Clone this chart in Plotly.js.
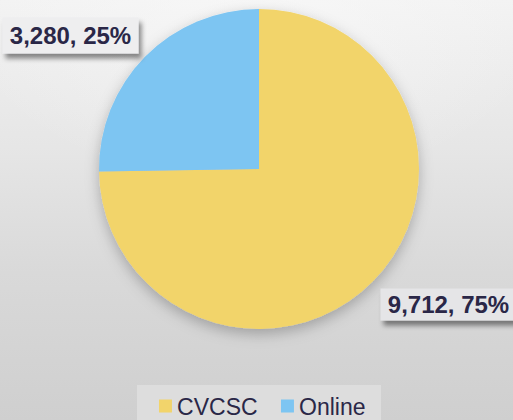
<!DOCTYPE html>
<html>
<head>
<meta charset="utf-8">
<script src="https://cdn.plot.ly/plotly-3.0.1.min.js"></script>
<style>
  html, body { margin:0; padding:0; }
  body { width:513px; height:420px; overflow:hidden;
    background:
      radial-gradient(ellipse 60% 45% at 50% 0%, rgba(250,250,250,0.6) 0%, rgba(250,250,250,0) 100%),
      linear-gradient(to bottom, #f2f2f2 0%, #e6e6e6 35%, #d9d9d9 65%, #cfcfcf 100%); }
  #chart { width:513px; height:420px; }
  #chart .pielayer { filter: url(#pieShadow); }
  #chart .annotation rect.bg { filter: url(#lblShadow); }
  #chart .legend .legendpoints path { transform: translate(28.4px, 0px) scale(1.08); }
</style>
</head>
<body>
<svg width="0" height="0" style="position:absolute">
  <defs>
    <filter id="pieShadow" x="-20%" y="-20%" width="140%" height="140%">
      <feDropShadow dx="0" dy="5" stdDeviation="7" flood-color="#000" flood-opacity="0.25"/>
    </filter>
    <filter id="lblShadow" x="-20%" y="-30%" width="140%" height="180%">
      <feDropShadow dx="3" dy="5" stdDeviation="2.5" flood-color="#000" flood-opacity="0.45"/>
    </filter>
  </defs>
</svg>
<div id="chart"></div>
<script>
const categories = ["CVCSC", "Online"];
const values = [9712, 3280];
const colors = ["#F2D46B", "#7DC5F2"];

const total = values.reduce((a, b) => a + b, 0);
const labelText = values.map(v => v.toLocaleString("en-US") + ", " + Math.round(v / total * 100) + "%");

const textColor = "#2A2747";
const fontFam = "Liberation Sans, Arial, sans-serif";

const data = [{
  type: "pie",
  labels: categories,
  values: values,
  sort: false,
  direction: "clockwise",
  rotation: 0,
  marker: { colors: colors, line: { width: 0 } },
  textinfo: "none",
  hoverinfo: "label+value+percent",
  domain: { x: [99 / 513, 419 / 513], y: [91 / 420, 411 / 420] }
}];

const layout = {
  width: 513,
  height: 420,
  margin: { l: 0, r: 0, t: 0, b: 0, autoexpand: false },
  paper_bgcolor: "rgba(0,0,0,0)",
  plot_bgcolor: "rgba(0,0,0,0)",
  font: { family: fontFam, color: textColor },
  showlegend: true,
  legend: {
    orientation: "h",
    x: 0.505, xanchor: "center",
    y: 35.5 / 420, yanchor: "top",
    bgcolor: "#DDDDDD",
    entrywidth: 77,
    font: { size: 23, color: textColor, family: fontFam },
    traceorder: "normal"
  },
  annotations: [
    {
      text: "<b>" + labelText[1] + "</b>",
      xref: "paper", yref: "paper",
      x: 70.5 / 513, y: (420 - 35) / 420,
      xanchor: "center", yanchor: "middle",
      showarrow: false,
      font: { size: 24, color: textColor, family: fontFam },
      bgcolor: "#EEEEEF",
      width: 135, height: 35, borderpad: 0
    },
    {
      text: "<b>" + labelText[0] + "</b>",
      xref: "paper", yref: "paper",
      x: 448.5 / 513, y: (420 - 304) / 420,
      xanchor: "center", yanchor: "middle",
      showarrow: false,
      font: { size: 24, color: textColor, family: fontFam },
      bgcolor: "#E5E5E7",
      width: 135, height: 31, borderpad: 0
    }
  ]
};

Plotly.newPlot("chart", data, layout, { displayModeBar: false, staticPlot: true });
</script>
</body>
</html>
